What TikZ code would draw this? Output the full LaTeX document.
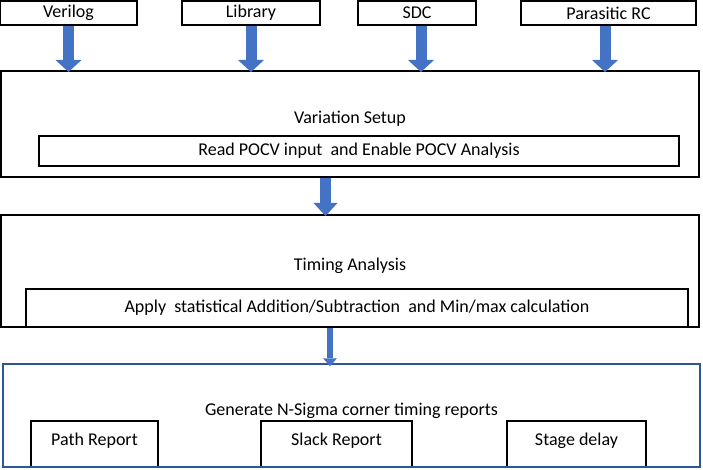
\documentclass[tikz,border=0pt]{standalone}
\usepackage{fontspec}
\setmainfont{Carlito}
\usetikzlibrary{arrows.meta, positioning}
\definecolor{arrowblue}{HTML}{4472C4}
\definecolor{frameblue}{HTML}{2F5597}

\begin{document}
\begin{tikzpicture}[x=1pt, y=-1pt, font=\fontsize{18}{21}\selectfont]
    \tikzstyle{inputbox}=[draw, line width=2pt, minimum height=24pt, inner sep=0pt]
    \tikzstyle{stagebox}=[draw, line width=2pt, inner sep=0pt]
    \tikzstyle{taskbox}=[draw, line width=2pt, inner sep=0pt]
    \tikzstyle{reportbox}=[draw, line width=2pt, minimum height=46pt, inner sep=0pt, text depth=9pt]
    \tikzstyle{feedarrow}=[arrowblue, line width=11pt, shorten >=-2pt, -{Triangle[width=26pt, length=12pt, line width=0pt]}]
    \tikzstyle{stagearrow}=[arrowblue, line width=11pt, shorten >=-2pt, -{Triangle[width=24pt, length=13pt, line width=0pt]}]
    \tikzstyle{reportarrow}=[arrowblue, line width=6pt, shorten >=-3pt, -{Triangle[width=14pt, length=8pt, line width=0pt]}]

    \useasboundingbox (0,0) rectangle (703,470);

    % Inputs
    \node[inputbox, minimum width=137pt] (verilog) at (68.5,13) {Verilog};
    \node[inputbox, minimum width=138pt] (library) at (251,13) {Library};
    \node[inputbox, minimum width=118pt] (sdc) at (417,13) {SDC};
    \node[inputbox, minimum width=175pt] (parasitic) at (608.5,13) {Parasitic RC};

    % Variation Setup
    \node[stagebox, minimum width=698pt, minimum height=106pt] (setup) at (350,124) {};
    \node (setup_title) at (350,119) {Variation Setup};
    \node[taskbox, minimum width=640pt, minimum height=30pt] (read_pocv) at (359,151) {Read POCV input\ \ and Enable POCV Analysis};

    % Timing Analysis
    \node[stagebox, minimum width=698pt, minimum height=112pt] (timing) at (350,271) {};
    \node (timing_title) at (350,266) {Timing Analysis};
    \node[taskbox, minimum width=662pt, minimum height=38pt] (apply_stat) at (357,308) {Apply\ \ statistical Addition/Subtraction\ \ and Min/max calculation};

    % Reports
    \node[reportbox, minimum width=127pt] (path_rep) at (94.5,444) {Path Report};
    \node[reportbox, minimum width=151pt] (slack_rep) at (336.5,444) {Slack Report};
    \node[reportbox, minimum width=139pt] (stage_rep) at (576.5,444) {Stage delay};
    \node[draw=frameblue, line width=1.5pt, minimum width=697pt, minimum height=103pt] (reports) at (351.5,415.5) {};
    \node (reports_title) at (351.5,411) {Generate N-Sigma corner timing reports};

    % Arrows
    \draw[feedarrow] (verilog.south) -- (verilog.south |- setup.north);
    \draw[feedarrow] (library.south) -- (library.south |- setup.north);
    \draw[feedarrow] ([xshift=4pt]sdc.south) -- ([xshift=4pt]sdc.south |- setup.north);
    \draw[feedarrow] ([xshift=-3.5pt]parasitic.south) -- ([xshift=-3.5pt]parasitic.south |- setup.north);
    \draw[stagearrow] ([xshift=-24.5pt]setup.south) -- ([xshift=-24.5pt]setup.south |- timing.north);
    \draw[reportarrow] ([xshift=-20pt]timing.south) -- ([xshift=-20pt]timing.south |- reports.north);
\end{tikzpicture}
\end{document}
